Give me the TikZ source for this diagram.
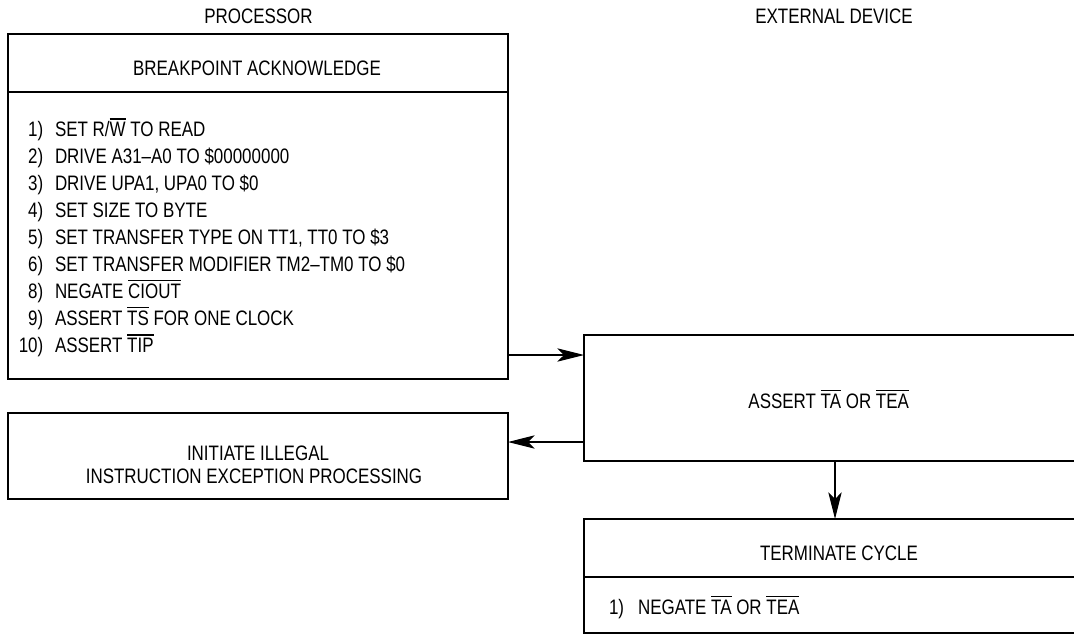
\documentclass[tikz,border=0pt]{standalone}
\usepackage{fontspec}
\setmainfont[FakeStretch=0.81]{Liberation Sans}
\usetikzlibrary{arrows.meta}
\newcommand{\ovl}[1]{\leavevmode\setbox0\hbox{#1}\rlap{\rule[\dimexpr\ht0+2pt\relax]{\wd0}{0.9pt}}\box0\relax}
\tikzset{
  x=0.75pt, y=-0.75pt,
  every node/.style={font=\fontsize{15.7pt}{18pt}\selectfont, inner sep=0pt, outer sep=0pt},
  box/.style={draw, line width=1.5pt, rectangle},
  lbl/.style={anchor=base},
  arr/.style={line width=0.8pt, -{Stealth[length=20pt,width=10pt,inset=5pt]}},
  divider/.style={line width=1.5pt},
}
\begin{document}
\begin{tikzpicture}
\useasboundingbox (0,0) rectangle (1074,635);
\clip (0,0) rectangle (1074,635);

% column titles
\node[lbl] (proc) at (258.5,23.3) {PROCESSOR};
\node[lbl] (ext) at (834,23.3) {EXTERNAL DEVICE};

% left box 1
\node[box, minimum width=375pt, minimum height=258pt] (bpa) at (258,206.5) {};
\draw[divider] (bpa.west |- 0,92.5) -- (bpa.east |- 0,92.5);
\node[lbl] (bpah) at (257,75) {BREAKPOINT ACKNOWLEDGE};
\foreach \n/\t [count=\i] in {
  {1)}/{SET R/\ovl{W} TO READ},
  {2)}/{DRIVE A31–A0 TO \$00000000},
  {3)}/{DRIVE UPA1, UPA0 TO \$0},
  {4)}/{SET SIZE TO BYTE},
  {5)}/{SET TRANSFER TYPE ON TT1, TT0 TO \$3},
  {6)}/{SET TRANSFER MODIFIER TM2–TM0 TO \$0},
  {8)}/{NEGATE \ovl{CIOUT}},
  {9)}/{ASSERT \ovl{TS} FOR ONE CLOCK},
  {10)}/{ASSERT \ovl{TIP}}} {
  \node[anchor=base east] (num\i) at (43.3,{136.7+27*(\i-1)}) {\n};
  \node[anchor=base west] (item\i) at (55,{136.7+27*(\i-1)}) {\t};
}

% left box 2
\node[box, minimum width=375pt, minimum height=64.5pt] (ill) at (258,456) {};
\node[lbl] (ill1) at (258,460) {INITIATE ILLEGAL};
\node[lbl] (ill2) at (254,483.3) {INSTRUCTION EXCEPTION PROCESSING};

% right box (assert)
\node[box, minimum width=387pt, minimum height=94.5pt] (ast) at (842,398) {};
\node[lbl] (astt) at (828.7,408) {ASSERT \ovl{TA} OR \ovl{TEA}};

% bottom box (terminate)
\node[box, minimum width=387pt, minimum height=85.5pt] (term) at (842,576) {};
\draw[divider] (term.west |- 0,577) -- (term.east |- 0,577);
\node[lbl] (termh) at (839,560) {TERMINATE CYCLE};
\node[anchor=base west] (tn1) at (609,614) {1)};
\node[anchor=base west] (tt1) at (638,614) {NEGATE \ovl{TA} OR \ovl{TEA}};

% connectors
\draw[arr] (bpa.east |- 0,355) -- (ast.west |- 0,355);
\draw[arr] (ast.west |- 0,442) -- (ill.east |- 0,442);
\draw[arr] (ast.south -| 835,0) -- (term.north -| 835,0);
\end{tikzpicture}
\end{document}
